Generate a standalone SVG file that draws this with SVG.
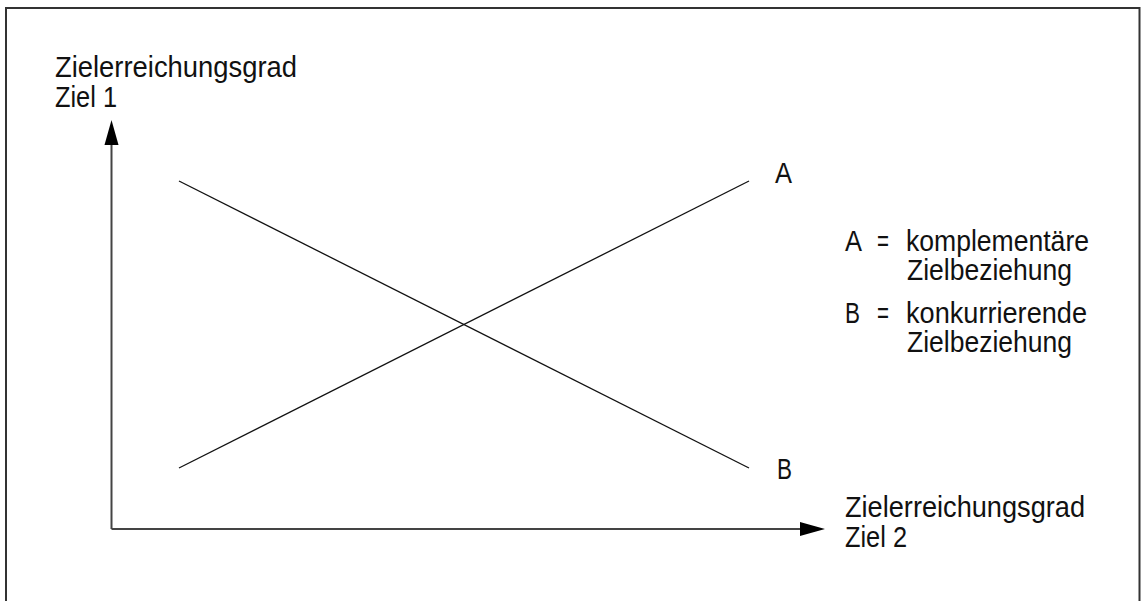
<svg xmlns="http://www.w3.org/2000/svg" width="1142" height="601" viewBox="0 0 1142 601">
<style>
text{font-family:"Liberation Sans Narrow","Liberation Sans",Arial,sans-serif;font-size:29px;fill:#111}
.ax{stroke:#444;stroke-width:2;fill:none}
.ln{stroke:#111;stroke-width:1.3;fill:none}
.ah{fill:#000}
</style>
<rect x="0" y="0" width="1142" height="601" fill="#fff"/>
<path d="M6,610 V8 H1139.5 V610" fill="none" stroke="#333" stroke-width="2"/>
<g id="axes">
<line class="ax" x1="111.5" y1="529" x2="111.5" y2="140"/>
<polygon class="ah" points="111.5,120 104.5,145 118.5,145"/>
<line class="ax" x1="111.5" y1="529" x2="805" y2="529"/>
<polygon class="ah" points="825,529 800,522 800,536"/>
</g>
<g id="connectors">
<line class="ln" x1="179" y1="468" x2="749" y2="181"/>
<line class="ln" x1="179" y1="181" x2="749" y2="468"/>
</g>
<g id="y-label">
<text x="55" y="77" textLength="242" lengthAdjust="spacingAndGlyphs">Zielerreichungsgrad</text>
<text x="55" y="107" textLength="62" lengthAdjust="spacingAndGlyphs">Ziel 1</text>
</g>
<g id="x-label">
<text x="845" y="517" textLength="240" lengthAdjust="spacingAndGlyphs">Zielerreichungsgrad</text>
<text x="845" y="547" textLength="62" lengthAdjust="spacingAndGlyphs">Ziel 2</text>
</g>
<g id="label-A"><text x="775" y="183" textLength="17" lengthAdjust="spacingAndGlyphs">A</text></g>
<g id="label-B"><text x="777" y="479" textLength="15" lengthAdjust="spacingAndGlyphs">B</text></g>
<g id="legend">
<text x="845" y="251" textLength="17" lengthAdjust="spacingAndGlyphs">A</text>
<text x="877" y="251" textLength="12" lengthAdjust="spacingAndGlyphs">=</text>
<text x="906" y="251" textLength="183" lengthAdjust="spacingAndGlyphs">komplementäre</text>
<text x="907" y="280" textLength="165" lengthAdjust="spacingAndGlyphs">Zielbeziehung</text>
<text x="845" y="323" textLength="15" lengthAdjust="spacingAndGlyphs">B</text>
<text x="877" y="323" textLength="12" lengthAdjust="spacingAndGlyphs">=</text>
<text x="906" y="323" textLength="181" lengthAdjust="spacingAndGlyphs">konkurrierende</text>
<text x="907" y="352" textLength="165" lengthAdjust="spacingAndGlyphs">Zielbeziehung</text>
</g>
</svg>
